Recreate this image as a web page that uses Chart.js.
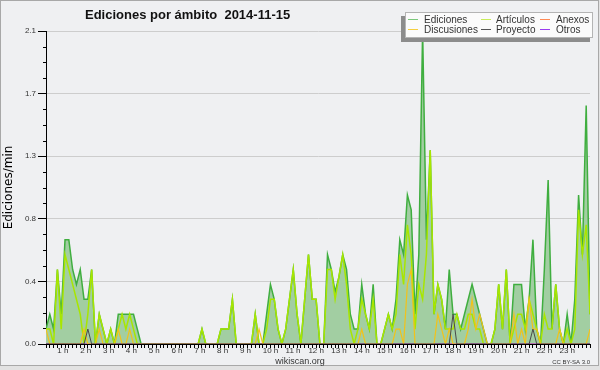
<!DOCTYPE html>
<html><head><meta charset="utf-8">
<script src="https://cdn.jsdelivr.net/npm/chart.js@4.4.1/dist/chart.umd.min.js"></script>
<style>html,body{margin:0;padding:0;background:#eff0f2}canvas{display:block}</style>
</head><body>
<canvas id="c" width="600" height="370"></canvas>
<script>
const chartTitle = 'Ediciones por ámbito  2014-11-15';
const yAxisTitle = 'Ediciones/min';
const footerLeft = 'wikiscan.org';
const footerRight = 'CC BY-SA 3.0';
const stepMinutes = 10;
const lastMinute = 1430;
const hourLabels = ['1 h','2 h','3 h','4 h','5 h','6 h','7 h','8 h','9 h','10 h','11 h','12 h',
  '13 h','14 h','15 h','16 h','17 h','18 h','19 h','20 h','21 h','22 h','23 h'];
const yTickValues = [0, 0.42, 0.84, 1.26, 1.68, 2.1];

// one value per 10 minutes, 12 values per line (2 hours)
const ediciones = [
  0.1,0.2,0.1,0.5,0.2,0.7,0.7,0.5,0.4,0.5,0.3,0.3,
  0.5,0,0.2,0.1,0,0.1,0,0.2,0.2,0.2,0.2,0.2,
  0.1,0,0,0,0,0,0,0,0,0,0,0,
  0,0,0,0,0,0.1,0,0,0,0,0.1,0.1,
  0.1,0.3,0,0,0,0,0,0.2,0,0,0.2,0.4,
  0.3,0.1,0,0.1,0.3,0.5,0.2,0,0.3,0.6,0.3,0.3,
  0,0,0.6,0.5,0.35,0.45,0.6,0.5,0.2,0.1,0.1,0.4,
  0.2,0.1,0.4,0,0,0.1,0.2,0.1,0.3,0.7,0.6,1.0,
  0.9,0.2,0.6,2.1,0.7,1.3,0.2,0.4,0.3,0.1,0.5,0.2,
  0.2,0.1,0.2,0.3,0.4,0.3,0.2,0.1,0,0,0.1,0.4,
  0.1,0.5,0,0.4,0.4,0.4,0.1,0.3,0.7,0.1,0,0.5,
  1.1,0.1,0.4,0.1,0,0.2,0,0.3,1.0,0.6,1.6,0.2
];
const articulos = [
  0.1,0.1,0,0.5,0.1,0.6,0.5,0.4,0.3,0.2,0,0.2,
  0.5,0,0.2,0.1,0,0.1,0,0.1,0.2,0.1,0.2,0.1,
  0,0,0,0,0,0,0,0,0,0,0,0,
  0,0,0,0,0,0.1,0,0,0,0,0.1,0.1,
  0.1,0.3,0,0,0,0,0,0.2,0,0,0.1,0.3,
  0.3,0.1,0,0.1,0.3,0.5,0.2,0,0.3,0.6,0.3,0.3,
  0,0,0.5,0.5,0.3,0.45,0.6,0.4,0.1,0,0.1,0.3,
  0.2,0.1,0.3,0,0,0.1,0.2,0.1,0.2,0.6,0.4,0.8,
  0.6,0.1,0.4,0.3,0.6,1.3,0.2,0.4,0.3,0.1,0.1,0.1,
  0.2,0.1,0.1,0.2,0.2,0.1,0.1,0,0,0,0.1,0.4,
  0.1,0.5,0,0.1,0.2,0.2,0.1,0.3,0.2,0.1,0,0.2,
  0.1,0.1,0.4,0.1,0,0.1,0,0.1,0.9,0.6,0.8,0.2
];
const discusiones = [
  0.1,0,0,0,0,0,0,0,0,0,0.1,0,
  0,0,0.1,0,0,0,0,0.1,0,0,0.1,0,
  0,0,0,0,0,0,0,0,0,0,0,0,
  0,0,0,0,0,0,0,0,0,0,0,0,
  0,0,0,0,0,0,0,0,0.1,0,0,0,
  0,0,0,0,0,0,0,0,0,0,0,0,
  0,0,0,0,0,0,0,0,0,0,0,0.1,
  0,0,0,0,0,0,0,0,0.1,0.1,0,0.4,
  0.5,0,0,0,0,0,0,0.2,0.1,0,0.1,0,
  0,0,0,0.1,0.3,0.1,0.2,0.1,0,0,0,0,
  0,0,0,0.2,0,0.1,0,0.3,0.1,0.1,0,0,
  0,0,0,0.1,0,0,0,0,0,0,0,0.1
];
const proyecto = [
  0,0,0,0,0,0,0,0,0,0,0,0.1,
  0,0,0,0,0,0,0,0,0,0,0,0,
  0,0,0,0,0,0,0,0,0,0,0,0,
  0,0,0,0,0,0,0,0,0,0,0,0,
  0,0,0,0,0,0,0,0,0,0,0,0,
  0,0,0,0,0,0,0,0,0,0,0,0,
  0,0,0,0,0,0,0,0,0,0,0,0,
  0,0,0,0,0,0,0,0,0,0,0,0,
  0,0,0,0,0,0,0,0,0,0,0,0.2,
  0,0,0,0,0,0,0,0,0,0,0,0,
  0,0,0,0,0,0,0,0,0.1,0,0,0,
  0,0,0,0,0,0,0,0,0,0,0,0
];
const anexos = [
  0,0,0,0,0,0,0,0,0,0,0,0,
  0,0,0,0,0,0,0,0,0,0,0,0,
  0,0,0,0,0,0,0,0,0,0,0,0,
  0,0,0,0,0,0,0,0,0,0,0,0,
  0,0,0,0,0,0,0,0,0,0,0,0,
  0,0,0,0,0,0,0,0,0,0,0,0,
  0,0,0,0,0,0,0,0,0,0,0,0,
  0,0,0,0,0,0,0,0,0,0,0,0,
  0,0,0,0,0,0,0,0,0,0,0,0,
  0,0,0,0,0,0,0,0,0,0,0,0,
  0,0,0,0,0,0,0,0,0,0,0,0,
  0,0,0,0,0,0,0,0,0,0,0,0
];
const otros = [
  0,0,0,0,0,0,0,0,0,0,0,0,
  0,0,0,0,0,0,0,0,0,0,0,0,
  0,0,0,0,0,0,0,0,0,0,0,0,
  0,0,0,0,0,0,0,0,0,0,0,0,
  0,0,0,0,0,0,0,0,0,0,0,0,
  0,0,0,0,0,0,0,0,0,0,0,0,
  0,0,0,0,0,0,0,0,0,0,0,0,
  0,0,0,0,0,0,0,0,0,0,0,0,
  0,0,0,0,0,0,0,0,0,0,0,0,
  0,0,0,0,0,0,0,0,0,0,0,0,
  0,0,0,0,0,0,0,0,0,0,0,0,
  0,0,0,0,0,0,0,0,0,0,0,0
];

const colors = {
  Ediciones: '#3fae3f', EdicionesFill: '#a2cea2',
  'Artículos': '#a8e600', Anexos: '#ff7a45',
  Discusiones: '#f2c21a', Proyecto: '#4a4a4a', Otros: '#9a3cf0'
};
// legend grid order: row 1 then row 2
const legendItems = [
  ['Ediciones', '#7cc87c'], ['Artículos', '#c8ec5a'], ['Anexos', '#ff8a55'],
  ['Discusiones', '#f5cf40'], ['Proyecto', '#555555'], ['Otros', '#9a3cf0']
];

const toXY = arr => arr.map((v, i) => ({x: i * stepMinutes, y: v}));

const bgPlugin = {
  id: 'bg',
  beforeDraw(chart) {
    const c = chart.ctx; c.save();
    c.fillStyle = '#e2e2e2'; c.fillRect(0, 0, chart.width, chart.height);
    c.fillStyle = '#eff0f2'; c.fillRect(0, 0, 599, 366);
    c.strokeStyle = '#a8a8a8'; c.lineWidth = 1; c.strokeRect(0.5, 0.5, 598, 365);
    c.restore();
  }
};

const decoPlugin = {
  id: 'deco',
  afterDraw(chart) {
    const c = chart.ctx; const y = chart.scales.y;
    c.save();
    // minor y ticks
    c.strokeStyle = '#000'; c.lineWidth = 1;
    const minorStep = yTickValues[1] / 4;
    for (let k = 1; k < 20; k++) {
      if (k % 4 === 0) continue;
      const py = Math.round(y.getPixelForValue(k * minorStep)) + 0.5;
      c.beginPath(); c.moveTo(y.right - 3, py); c.lineTo(y.right, py); c.stroke();
    }
    // title
    c.fillStyle = '#111'; c.font = 'bold 13px "Liberation Sans"';
    c.textAlign = 'left'; c.textBaseline = 'alphabetic';
    c.fillText(chartTitle, 85, 19);
    // legend
    c.fillStyle = '#8c8c8c'; c.fillRect(401, 16, 189, 26);
    c.fillStyle = '#fbfbfb'; c.fillRect(405, 12, 188, 26);
    c.strokeStyle = '#b4b4b4'; c.strokeRect(405.5, 12.5, 187, 25);
    const lineX = [408, 481, 540], textX = [424, 496, 556], rowY = [19.5, 29.5];
    c.font = '10px "Liberation Sans"'; c.textBaseline = 'middle';
    legendItems.forEach((it, i) => {
      const col = i % 3, row = Math.floor(i / 3);
      c.strokeStyle = it[1]; c.lineWidth = 1;
      c.beginPath(); c.moveTo(lineX[col], rowY[row]); c.lineTo(lineX[col] + 10, rowY[row]); c.stroke();
      c.fillStyle = '#333'; c.fillText(it[0], textX[col], rowY[row] + 0.5);
    });
    // footer
    c.textBaseline = 'alphabetic';
    c.font = '9px "Liberation Sans"'; c.textAlign = 'center'; c.fillStyle = '#333';
    c.fillText(footerLeft, 300, 364);
    c.font = '6px "Liberation Sans"'; c.textAlign = 'right';
    c.fillText(footerRight, 590, 364);
    c.restore();
  }
};

new Chart(document.getElementById('c'), {
  type: 'line',
  data: {
    datasets: [
      {label: 'Proyecto', data: toXY(proyecto), borderColor: colors.Proyecto, borderWidth: 1, order: 1, fill: false},
      {label: 'Discusiones', data: toXY(discusiones), borderColor: colors.Discusiones, borderWidth: 1.2, order: 2, fill: false},
      {label: 'Otros', data: toXY(otros), borderColor: colors.Otros, borderWidth: 1, order: 3, fill: false},
      {label: 'Anexos', data: toXY(anexos), borderColor: colors.Anexos, borderWidth: 1, order: 4, fill: false},
      {label: 'Artículos', data: toXY(articulos), borderColor: colors['Artículos'], borderWidth: 1.5, order: 5, fill: false},
      {label: 'Ediciones', data: toXY(ediciones), borderColor: colors.Ediciones, backgroundColor: colors.EdicionesFill, borderWidth: 1.5, order: 6, fill: 'origin'}
    ]
  },
  options: {
    responsive: false, animation: false, devicePixelRatio: 1,
    layout: {padding: {top: 31, right: 10, left: 0, bottom: 0}},
    plugins: {legend: {display: false}, tooltip: {enabled: false}, title: {display: false}},
    elements: {point: {radius: 0}, line: {tension: 0}},
    scales: {
      x: {
        type: 'linear', min: 0, max: lastMinute, z: 1,
        afterFit(s) { s.height = 26; },
        afterBuildTicks(s) { const t = []; for (let m = 0; m <= lastMinute; m += stepMinutes) t.push({value: m}); s.ticks = t; },
        border: {color: '#000', width: 1},
        grid: {drawOnChartArea: false, tickLength: 4, tickColor: '#000', lineWidth: 1},
        ticks: {
          autoSkip: false, maxRotation: 0, minRotation: 0, align: 'start', labelOffset: -11.5, padding: -2,
          color: '#333', font: {family: 'Liberation Sans', size: 8},
          callback: v => (v % 60 === 0 && v > 0) ? (hourLabels[v / 60 - 1] || '') : ''
        }
      },
      y: {
        min: 0, max: 2.1,
        afterFit(s) { s.width = 46; },
        afterBuildTicks(s) { s.ticks = yTickValues.map(v => ({value: v})); },
        border: {color: '#000', width: 1},
        grid: {color: '#cdcdcd', tickColor: '#000', tickLength: 8, lineWidth: 1},
        ticks: {padding: 2, color: '#333', font: {family: 'Liberation Sans', size: 8}, callback: v => Number(v).toFixed(1)},
        title: {display: true, text: yAxisTitle, color: '#000', font: {family: 'DejaVu Sans', size: 12}, padding: {top: 2, bottom: 0}}
      }
    }
  },
  plugins: [bgPlugin, decoPlugin]
});
</script>
</body></html>
